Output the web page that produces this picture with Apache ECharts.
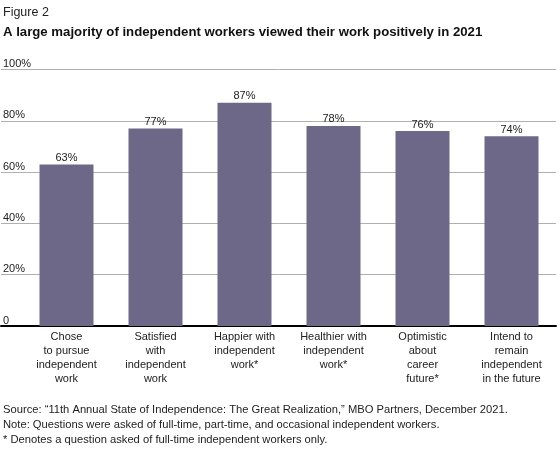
<!DOCTYPE html>
<html>
<head>
<meta charset="utf-8">
<script src="https://cdn.jsdelivr.net/npm/echarts@6/dist/echarts.min.js"></script>
<style>
html,body{margin:0;padding:0;background:#fff;}
#chart{width:560px;height:450px;}
</style>
</head>
<body>
<div id="chart"></div>
<script>
const categories = [
  "Chose\nto pursue\nindependent\nwork",
  "Satisfied\nwith\nindependent\nwork",
  "Happier with\nindependent\nwork*",
  "Healthier with\nindependent\nwork*",
  "Optimistic\nabout\ncareer\nfuture*",
  "Intend to\nremain\nindependent\nin the future"
];
const values = [63, 77, 87, 78, 76, 74];
const yTicks = [0, 20, 40, 60, 80, 100];
const figureLabel = "Figure 2";
const titleText = "A large majority of independent workers viewed their work positively in 2021";
const notes = [
  "Source: \u201c11th Annual State of Independence: The Great Realization,\u201d MBO Partners, December 2021.",
  "Note: Questions were asked of full-time, part-time, and occasional independent workers.",
  "* Denotes a question asked of full-time independent workers only."
];

const FONT = "Liberation Sans, Arial, sans-serif";
const chart = echarts.init(document.getElementById('chart'), null, {renderer: 'canvas'});
const gridTop = 69.5, gridBottom = 124;

chart.setOption({
  animation: false,
  textStyle: {fontFamily: FONT},
  title: [
    {text: figureLabel, left: 3, top: 6, padding: 0, textStyle: {fontFamily: FONT, fontSize: 12.5, fontWeight: 'normal', color: '#222'}},
    {text: titleText, left: 3, top: 26, padding: 0, textStyle: {fontFamily: FONT, fontSize: 13.2, fontWeight: 'bold', color: '#111'}},
    {text: notes.join("\n"), left: 3, top: 402, padding: 0, textStyle: {fontFamily: FONT, fontSize: 11.2, fontWeight: 'normal', color: '#222', lineHeight: 15}}
  ],
  grid: [
    {left: 0, right: 4, top: gridTop, bottom: gridBottom},
    {left: 22, right: 4, top: gridTop, bottom: gridBottom}
  ],
  xAxis: [
    {gridIndex: 0, type: 'value', min: 0, max: 1, axisLabel: {show: false}, axisTick: {show: false}, splitLine: {show: false},
     axisLine: {show: true, lineStyle: {color: '#000', width: 2}}},
    {gridIndex: 1, type: 'category', data: categories,
     axisLine: {show: false}, axisTick: {show: false},
     axisLabel: {interval: 0, color: '#222', fontSize: 11, lineHeight: 14, margin: 4, fontFamily: FONT}}
  ],
  yAxis: [
    {gridIndex: 0, type: 'value', min: 0, max: 100, interval: 20,
     axisLine: {show: false}, axisTick: {show: false},
     splitLine: {show: true, lineStyle: {color: '#b0b0b0', width: 1}},
     axisLabel: {inside: true, margin: 2, align: 'left', verticalAlign: 'bottom', color: '#222', fontSize: 11, fontFamily: FONT,
       formatter: v => yTicks.includes(v) ? (v === 0 ? '0' : v + '%') : ''}},
    {gridIndex: 1, type: 'value', min: 0, max: 100, show: false}
  ],
  series: [{
    type: 'bar', xAxisIndex: 1, yAxisIndex: 1, data: values, barWidth: 54,
    itemStyle: {color: '#6e6888'},
    label: {show: true, position: 'top', distance: 1, formatter: '{c}%', color: '#222', fontSize: 11, fontFamily: FONT},
    z: 3
  }]
});
</script>
</body>
</html>
